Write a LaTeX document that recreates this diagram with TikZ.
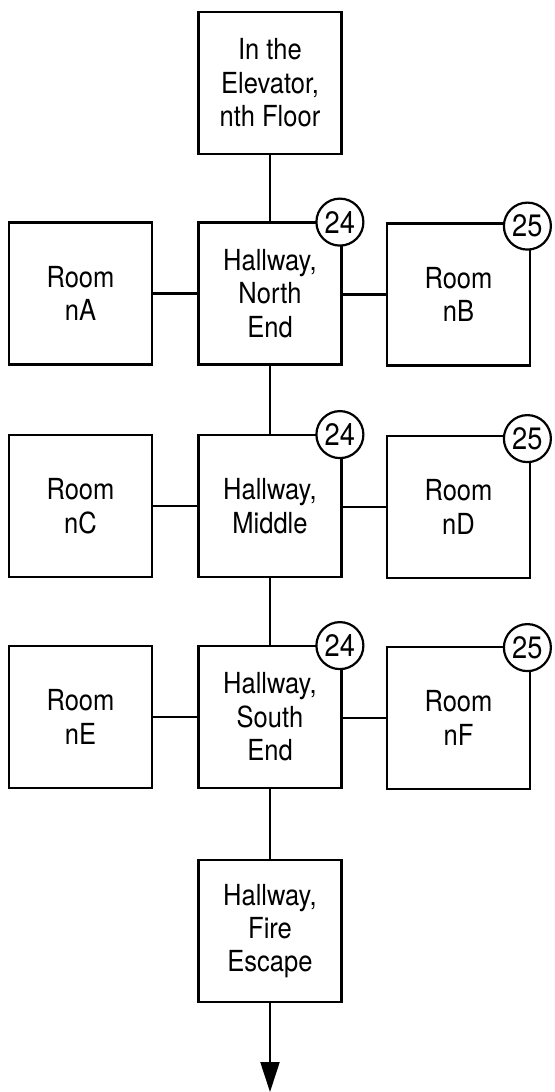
\documentclass[tikz,border=0pt]{standalone}
\usepackage{fontspec}
\setmainfont[FakeStretch=0.88]{TeX Gyre Heros}
\usetikzlibrary{arrows.meta}
\tikzset{
    area/.style={draw, line width=1.4pt, minimum width=71.5pt, minimum height=71pt,
        align=center, inner sep=0pt, font=\fontsize{14.5}{16.7}\selectfont},
    tag/.style={draw, circle, fill=white, line width=1.1pt, minimum size=23.5pt,
        inner sep=0pt, font=\fontsize{15.5}{16.7}\selectfont},
    link/.style={line width=1.1pt}
}
\begin{document}
\begin{tikzpicture}[x=0.5pt,y=-0.5pt]
    \useasboundingbox (0,0) rectangle (554,1092);
    % hallway column
    \node[area] (lift) at (270,83) {In the\\Elevator,\\nth Floor};
    \node[area] (north) at (270,293.5) {Hallway,\\North\\End};
    \node[area] (middle) at (270,506) {Hallway,\\Middle};
    \node[area] (south) at (270,717) {Hallway,\\South\\End};
    \node[area] (fire) at (270,931) {Hallway,\\Fire\\Escape};
    \coordinate (exit) at (270,1092);
    % rooms
    \node[area] (roomA) at (80.5,293.5) {Room\\nA};
    \node[area] (roomB) at (458.5,294.5) {Room\\nB};
    \node[area] (roomC) at (80.5,506) {Room\\nC};
    \node[area] (roomD) at (458.5,507) {Room\\nD};
    \node[area] (roomE) at (80.5,717) {Room\\nE};
    \node[area] (roomF) at (458.5,718) {Room\\nF};
    % connectors
    \draw[link] (lift) -- (north);
    \draw[link] (north) -- (middle);
    \draw[link] (middle) -- (south);
    \draw[link] (south) -- (fire);
    \draw[link,-{Triangle[length=15pt,width=9.5pt]}] (fire) -- (exit);
    \draw[link] (roomA.east) -- (roomA.east -| north.west);
    \draw[link] (north.east |- roomB.west) -- (roomB.west);
    \draw[link] (roomC.east) -- (roomC.east -| middle.west);
    \draw[link] (middle.east |- roomD.west) -- (roomD.west);
    \draw[link] (roomE.east) -- (roomE.east -| south.west);
    \draw[link] (south.east |- roomF.west) -- (roomF.west);
    % numbered tags
    \node[tag,xshift=-1.5pt,yshift=-0.5pt] (tagN) at (north.north east) {24};
    \node[tag,xshift=-1.5pt,yshift=-0.5pt] (tagM) at (middle.north east) {24};
    \node[tag,xshift=-1.5pt,yshift=-0.5pt] (tagS) at (south.north east) {24};
    \node[tag,xshift=-2pt,yshift=-2pt] (tagB) at (roomB.north east) {25};
    \node[tag,xshift=-2pt,yshift=-2pt] (tagD) at (roomD.north east) {25};
    \node[tag,xshift=-2pt,yshift=-1pt] (tagF) at (roomF.north east) {25};
\end{tikzpicture}
\end{document}
